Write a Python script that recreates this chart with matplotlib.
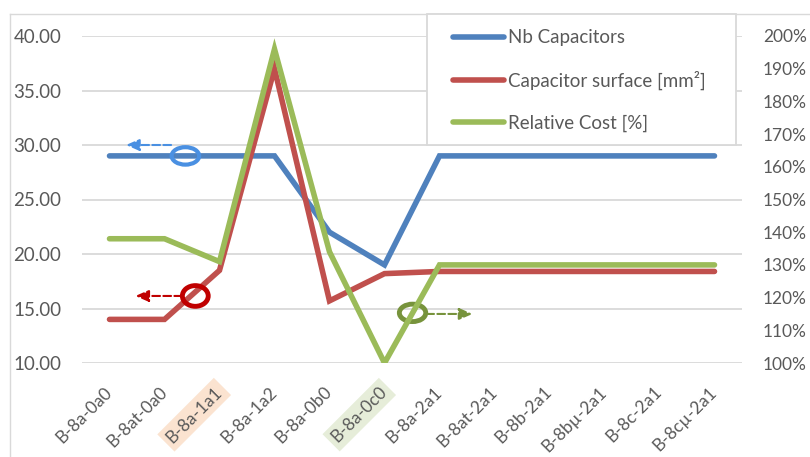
import matplotlib.pyplot as plt
from matplotlib.patches import Ellipse, Rectangle
from matplotlib.lines import Line2D

plt.rcParams['font.family'] = ['Lato', 'DejaVu Sans']

categories = ['B-8a-0a0', 'B-8at-0a0', 'B-8a-1a1', 'B-8a-1a2', 'B-8a-0b0', 'B-8a-0c0',
              'B-8a-2a1', 'B-8at-2a1', 'B-8b-2a1', 'B-8bµ-2a1', 'B-8c-2a1', 'B-8cµ-2a1']
nb_capacitors = [29, 29, 29, 29, 22, 19, 29, 29, 29, 29, 29, 29]
cap_surface = [14.0, 14.0, 18.5, 37.0, 15.7, 18.2, 18.4, 18.4, 18.4, 18.4, 18.4, 18.4]
relative_cost = [138, 138, 131, 196, 134, 100, 130, 130, 130, 130, 130, 130]

highlight = {'B-8a-1a1': '#FBE3D0', 'B-8a-0c0': '#E6EDD9'}

blue, red, green = '#4F81BD', '#C0504D', '#9BBB59'
txt = '#595959'
grid = '#D9D9D9'

fig = plt.figure(figsize=(8.1, 4.57), dpi=100)
ax = fig.add_axes([82 / 810, 1 - 363 / 457, 660 / 810, 327 / 457])
ax2 = ax.twinx()

x = range(len(categories))
ax.plot(x, nb_capacitors, color=blue, lw=4, solid_capstyle='round', solid_joinstyle='miter', zorder=3)
ax.plot(x, cap_surface, color=red, lw=4, solid_capstyle='round', solid_joinstyle='miter', zorder=3)
ax2.plot(x, relative_cost, color=green, lw=4, solid_capstyle='round', solid_joinstyle='miter', zorder=3)

ax.set_xlim(-0.5, len(categories) - 0.5)
ax.set_ylim(10, 40)
ax.set_yticks(range(10, 41, 5))
ax.set_yticklabels([f'{v:.2f}' for v in range(10, 41, 5)])
ax2.set_ylim(100, 200)
ax2.set_yticks(range(100, 201, 10))
ax2.set_yticklabels([f'{v}%' for v in range(100, 201, 10)])

ax.grid(axis='y', color=grid, lw=1.3)
ax.set_axisbelow(True)
for a in (ax, ax2):
    for s in a.spines.values():
        s.set_visible(False)
    a.tick_params(length=0, colors=txt)
ax.tick_params(axis='y', labelsize=13.5, pad=15)
ax2.tick_params(axis='y', labelsize=12.5, pad=15)

ax.set_xticks(list(x))
ax.set_xticklabels(categories, rotation=45, ha='right', va='center',
                   rotation_mode='anchor', fontsize=12.5, color=txt)
ax.tick_params(axis='x', pad=19)
for lab in ax.get_xticklabels():
    if lab.get_text() in highlight:
        lab.set_bbox(dict(facecolor=highlight[lab.get_text()], edgecolor='none', pad=3))

# annotation markers
ax.add_patch(Ellipse((1.38, 29.0), 0.5, 1.6, fill=False, ec='#4A90E2', lw=3, zorder=4))
ax.annotate('', xy=(0.3, 30.0), xytext=(1.12, 30.0),
            arrowprops=dict(arrowstyle='-|>,head_length=0.8,head_width=0.35', ls='--',
                            color='#4A90E2', lw=1.5, shrinkA=0, shrinkB=0), zorder=4)
ax.add_patch(Ellipse((1.56, 16.15), 0.47, 1.9, fill=False, ec='#C00000', lw=3.5, zorder=4))
ax.annotate('', xy=(0.47, 16.15), xytext=(1.32, 16.15),
            arrowprops=dict(arrowstyle='-|>,head_length=0.8,head_width=0.35', ls='--',
                            color='#C00000', lw=1.5, shrinkA=0, shrinkB=0), zorder=4)
ax.add_patch(Ellipse((5.51, 14.6), 0.48, 1.6, fill=False, ec='#77933C', lw=3.5, zorder=4))
ax.annotate('', xy=(6.6, 14.5), xytext=(5.76, 14.5),
            arrowprops=dict(arrowstyle='-|>,head_length=0.8,head_width=0.35', ls='--',
                            color='#77933C', lw=1.5, shrinkA=0, shrinkB=0), zorder=4)

# outer chart frame
fig.add_artist(Line2D([10 / 810, 1], [1 - 14 / 457] * 2, color=grid, lw=1))
fig.add_artist(Line2D([10 / 810] * 2, [0, 1 - 14 / 457], color=grid, lw=1))

# legend box
fig.add_artist(Rectangle((427 / 810, 1 - 145 / 457), 309 / 810, 131 / 457,
                         facecolor='white', edgecolor=grid, lw=1.3, zorder=4))
handles = [Line2D([], [], color=c, lw=4, solid_capstyle='round') for c in (blue, red, green)]
fig.legend(handles, ['Nb Capacitors', 'Capacitor surface [mm²]', 'Relative Cost [%]'],
           loc='upper left', bbox_to_anchor=(445 / 810, 1 - 22 / 457), frameon=False,
           fontsize=13.5, labelcolor=txt, handlelength=2.75, handletextpad=0.2,
           labelspacing=1.3, borderaxespad=0)

fig.savefig('out.png', dpi=100)
